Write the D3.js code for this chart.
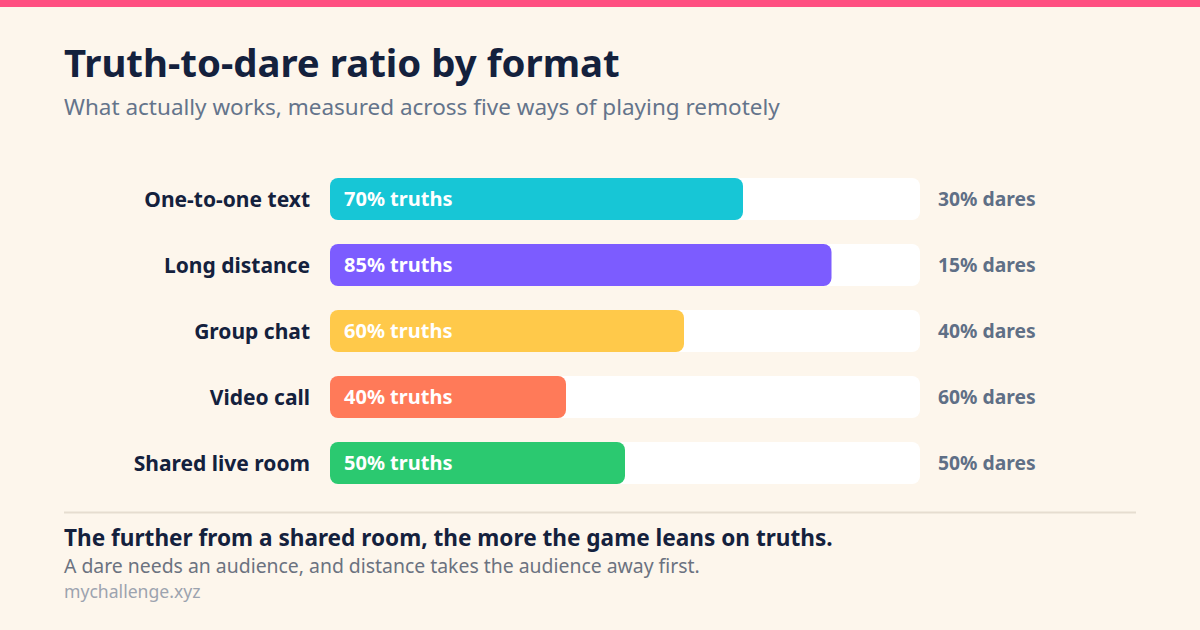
<!DOCTYPE html>
<html><head><meta charset="utf-8">
<script src="https://cdn.jsdelivr.net/npm/d3@7"></script>
<style>
html,body{margin:0;padding:0;background:#fdf6ec;}
svg{display:block;font-family:"Noto Sans",sans-serif;}
</style></head>
<body><svg id="c" width="1200" height="630"></svg>
<script>
const categories = ["One-to-one text","Long distance","Group chat","Video call","Shared live room"];
const truths = [70,85,60,40,50];
const dares = [30,15,40,60,50];
const colors = ["#17c6d6","#7c5cff","#ffc94a","#ff7a59","#2bc970"];

const svg = d3.select("#c");
svg.append("rect").attr("width",1200).attr("height",630).attr("fill","#fdf6ec");
svg.append("rect").attr("width",1200).attr("height",7).attr("fill","#ff4f81");

svg.append("text").attr("x",64).attr("y",77).text("Truth-to-dare ratio by format")
  .attr("font-size",38.4).attr("font-weight",700).attr("fill","#14213d");
svg.append("text").attr("x",64).attr("y",115).text("What actually works, measured across five ways of playing remotely")
  .attr("font-size",22.5).attr("fill","#64748b");

const x = d3.scaleLinear().domain([0,100]).range([330,920]);
const y = d3.scaleBand().domain(categories).range([178,178+66*5-24]).paddingInner(24/66).paddingOuter(0);

const g = svg.append("g");
const rows = g.selectAll("g.row").data(categories).join("g").attr("class","row");
rows.append("rect").attr("x",x(0)).attr("y",d=>y(d)).attr("width",x(100)-x(0)).attr("height",y.bandwidth())
  .attr("rx",8).attr("fill","#ffffff");
rows.append("rect").attr("x",x(0)).attr("y",d=>y(d)).attr("width",(d,i)=>x(truths[i])-x(0)).attr("height",y.bandwidth())
  .attr("rx",8).attr("fill",(d,i)=>colors[i]);
rows.append("text").attr("x",310).attr("y",d=>y(d)+y.bandwidth()/2).attr("dy","0.36em")
  .attr("text-anchor","end").attr("font-size",21).attr("font-weight",700).attr("fill","#14213d").text(d=>d);
rows.append("text").attr("x",x(0)+14).attr("y",d=>y(d)+y.bandwidth()/2).attr("dy","0.36em")
  .attr("font-size",20).attr("font-weight",700).attr("fill","#ffffff").text((d,i)=>truths[i]+"% truths");
rows.append("text").attr("x",x(100)+18).attr("y",d=>y(d)+y.bandwidth()/2).attr("dy","0.36em")
  .attr("font-size",19.3).attr("font-weight",700).attr("fill","#5f6f86").text((d,i)=>dares[i]+"% dares");

svg.append("line").attr("x1",64).attr("x2",1136).attr("y1",512.5).attr("y2",512.5).attr("stroke","#e6ddd0").attr("stroke-width",2);
svg.append("text").attr("x",64).attr("y",546).text("The further from a shared room, the more the game leans on truths.")
  .attr("font-size",22.6).attr("font-weight",700).attr("fill","#14213d");
svg.append("text").attr("x",64).attr("y",573).text("A dare needs an audience, and distance takes the audience away first.")
  .attr("font-size",19.4).attr("fill","#6b7280");
svg.append("text").attr("x",64).attr("y",598).text("mychallenge.xyz")
  .attr("font-size",17.6).attr("fill","#9ca3af");
</script></body></html>
